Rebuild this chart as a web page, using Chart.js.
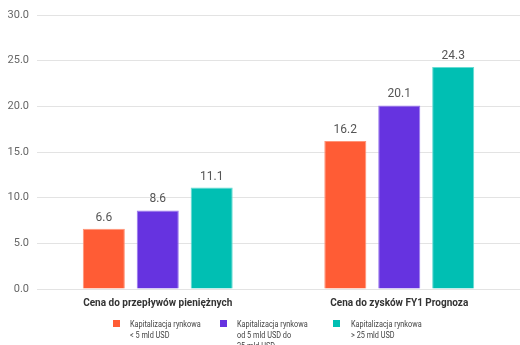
<!DOCTYPE html>
<html>
<head>
<meta charset="utf-8">
<script src="https://cdn.jsdelivr.net/npm/chart.js@4"></script>
<style>
html,body{margin:0;padding:0;background:#fff;}
#wrap{width:520px;height:345px;position:relative;}
</style>
</head>
<body>
<div id="wrap"><canvas id="c" width="520" height="345"></canvas></div>
<script>
const categories = ["Cena do przepływów pieniężnych", "Cena do zysków FY1 Prognoza"];
const seriesNames = [
  ["Kapitalizacja rynkowa", "< 5 mld USD"],
  ["Kapitalizacja rynkowa", "od 5 mld USD do", "25 mld USD"],
  ["Kapitalizacja rynkowa", "> 25 mld USD"]
];
const smallCap = [6.6, 16.2];
const midCap = [8.6, 20.1];
const largeCap = [11.1, 24.3];
const yTicks = [0, 5, 10, 15, 20, 25, 30];

const colors = ["#FF5C35", "#6633E0", "#00BFB3"];
const borders = ["#ff9478", "#9a78ee", "#66dcd3"];
const fam = 'Roboto, "Liberation Sans", Arial, sans-serif';

const valueLabels = {
  id: 'valueLabels',
  afterDatasetsDraw(chart) {
    const ctx = chart.ctx;
    ctx.save();
    ctx.font = '12px ' + fam;
    ctx.fillStyle = '#555';
    ctx.textAlign = 'center';
    ctx.textBaseline = 'bottom';
    chart.data.datasets.forEach((ds, i) => {
      const meta = chart.getDatasetMeta(i);
      meta.data.forEach((bar, j) => {
        ctx.fillText(ds.data[j].toFixed(1), bar.x, bar.y - 5);
      });
    });
    ctx.restore();
  }
};

const customLegend = {
  id: 'customLegend',
  afterDraw(chart) {
    const ctx = chart.ctx;
    const sq = [113, 220, 333];
    const tx = [130, 237, 351];
    chart.data.datasets.forEach((ds, i) => {
      ctx.save();
      ctx.fillStyle = ds.backgroundColor;
      ctx.fillRect(sq[i], 320, 7, 7);
      ctx.translate(tx[i], 0);
      ctx.scale(0.86, 1);
      ctx.font = '8.5px ' + fam;
      ctx.textBaseline = 'middle';
      ctx.textAlign = 'left';
      ctx.fillStyle = '#444';
      seriesNames[i].forEach((line, k) => {
        ctx.fillText(line, 0, 325 + k * 11);
      });
      ctx.restore();
    });
  }
};

new Chart(document.getElementById('c'), {
  type: 'bar',
  data: {
    labels: categories,
    datasets: [
      { label: seriesNames[0].join(' '), data: smallCap, backgroundColor: colors[0], borderColor: borders[0], borderWidth: 1 },
      { label: seriesNames[1].join(' '), data: midCap, backgroundColor: colors[1], borderColor: borders[1], borderWidth: 1 },
      { label: seriesNames[2].join(' '), data: largeCap, backgroundColor: colors[2], borderColor: borders[2], borderWidth: 1 }
    ]
  },
  options: {
    responsive: false,
    animation: false,
    devicePixelRatio: 1,
    layout: { padding: { top: 15, right: 0, bottom: 0, left: 0 } },
    datasets: { bar: { categoryPercentage: 0.67, barPercentage: 0.78 } },
    plugins: {
      legend: { display: false },
      tooltip: { enabled: false }
    },
    scales: {
      x: {
        grid: { display: false, drawTicks: false },
        border: { display: false },
        ticks: {
          padding: 8,
          color: '#333',
          font: { family: fam, size: 10, weight: 'bold' }
        },
        afterFit(scale) { scale.height = 56; }
      },
      y: {
        min: 0, max: 30,
        afterBuildTicks(scale) { scale.ticks = yTicks.map(v => ({ value: v })); },
        grid: { color: '#e3e3e3', lineWidth: 1, drawTicks: false },
        border: { display: false },
        ticks: {
          padding: 8,
          color: '#666',
          font: { family: fam, size: 11 },
          callback: (v) => Number(v).toFixed(1)
        },
        afterFit(scale) { scale.width = 37; }
      }
    }
  },
  plugins: [valueLabels, customLegend]
});
</script>
</body>
</html>
